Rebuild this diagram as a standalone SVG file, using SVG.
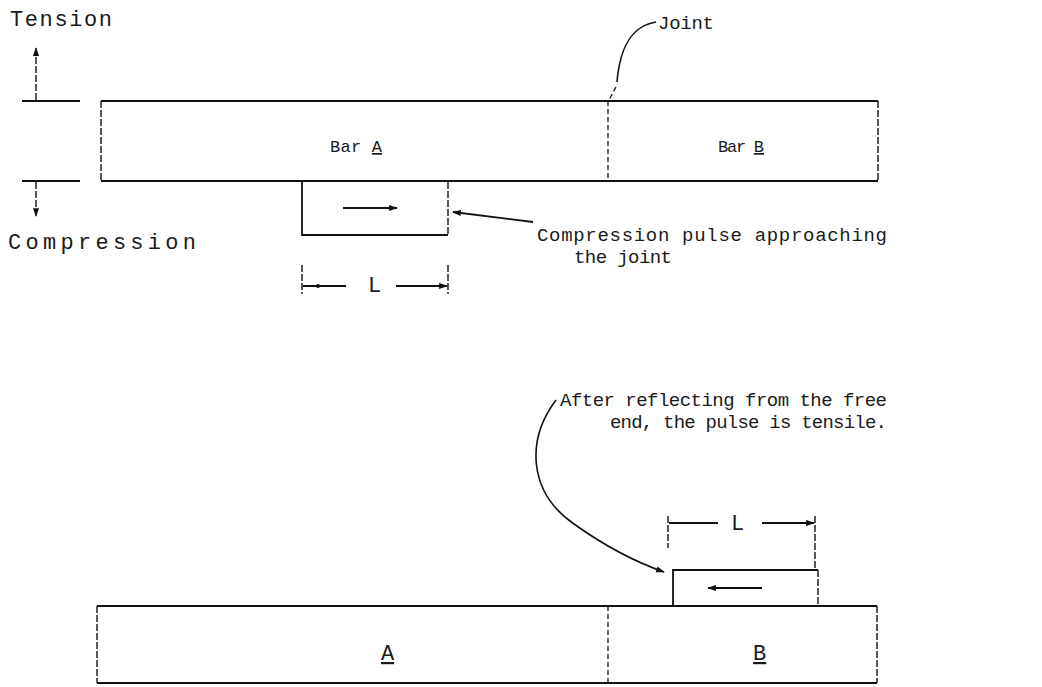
<svg xmlns="http://www.w3.org/2000/svg" width="1042" height="687" viewBox="0 0 1042 687">
<defs>
<style>
.t{font-family:"Liberation Mono","DejaVu Sans Mono",monospace;font-size:19px;fill:#1a1a1a}
.b{font-family:"Liberation Mono","DejaVu Sans Mono",monospace;font-size:22px;fill:#1a1a1a}
.s{font-family:"Liberation Mono","DejaVu Sans Mono",monospace;font-size:17px;fill:#1a1a1a}
.ln{stroke:#111;stroke-width:1.8;fill:none}
.dl{stroke:#111;stroke-width:1.4;fill:none;stroke-dasharray:7 2}
.jl{stroke:#111;stroke-width:1.3;fill:none;stroke-dasharray:5 3}
.cv{stroke:#111;stroke-width:1.6;fill:none}
</style>
<marker id="ah" viewBox="0 0 10 8" refX="9" refY="4" markerWidth="9" markerHeight="7" orient="auto" markerUnits="userSpaceOnUse">
<path d="M0,0.5 L10,4 L0,7.5 Z" fill="#111"/>
</marker>
</defs>
<rect width="1042" height="687" fill="#fff"/>

<g id="tension-indicator">
<text class="b" x="10" y="26" textLength="102" lengthAdjust="spacing">Tension</text>
<line class="ln" x1="22" y1="101" x2="80" y2="101"/>
<line class="dl" x1="36" y1="100" x2="36" y2="48" marker-end="url(#ah)"/>
</g>

<g id="compression-indicator">
<line class="ln" x1="22" y1="181" x2="80" y2="181"/>
<line class="dl" x1="36" y1="182" x2="36" y2="216" marker-end="url(#ah)"/>
<text class="b" x="8" y="249" textLength="188" lengthAdjust="spacing">Compression</text>
</g>

<g id="bar-a-top">
<line class="ln" x1="101" y1="101" x2="608" y2="101"/>
<line class="ln" x1="101" y1="181" x2="608" y2="181"/>
<line class="dl" x1="101" y1="101" x2="101" y2="181"/>
<text class="s" x="330" y="152" textLength="52" lengthAdjust="spacing">Bar <tspan text-decoration="underline">A</tspan></text>
</g>

<g id="bar-b-top">
<line class="ln" x1="608" y1="101" x2="878" y2="101"/>
<line class="ln" x1="608" y1="181" x2="878" y2="181"/>
<line class="dl" x1="878" y1="101" x2="878" y2="181"/>
<line class="jl" x1="608" y1="101" x2="608" y2="181"/>
<text class="s" x="718" y="152" textLength="46" lengthAdjust="spacing">Bar <tspan text-decoration="underline">B</tspan></text>
</g>

<g id="pulse-top">
<polyline class="ln" points="302,182 302,235 448,235"/>
<line class="dl" x1="448" y1="182" x2="448" y2="235"/>
<line class="ln" x1="343" y1="208" x2="397" y2="208" marker-end="url(#ah)"/>
</g>

<g id="dim-top">
<line class="dl" x1="302" y1="265" x2="302" y2="294"/>
<line class="dl" x1="448" y1="265" x2="448" y2="294"/>
<line class="ln" x1="303" y1="286" x2="346" y2="286"/>
<circle cx="318" cy="286" r="2" fill="#111"/>
<line class="ln" x1="396" y1="286" x2="447" y2="286" marker-end="url(#ah)"/>
<text class="b" x="368" y="292">L</text>
</g>

<g id="label-joint">
<text class="t" x="658" y="29" textLength="56" lengthAdjust="spacing">Joint</text>
</g>

<g id="label-compression-pulse">
<text class="t" x="537" y="241" textLength="350" lengthAdjust="spacing">Compression pulse approaching</text>
<text class="t" x="574" y="263" textLength="98" lengthAdjust="spacing">the joint</text>
</g>

<g id="label-after">
<text class="t" x="560" y="406" textLength="327" lengthAdjust="spacing">After reflecting from the free</text>
<text class="t" x="610" y="428" textLength="277" lengthAdjust="spacing">end, the pulse is tensile.</text>
</g>

<g id="dim-bottom">
<line class="dl" x1="668" y1="516" x2="668" y2="548"/>
<line class="dl" x1="815" y1="516" x2="815" y2="570"/>
<line class="ln" x1="669" y1="523" x2="718" y2="523"/>
<line class="ln" x1="762" y1="523" x2="814" y2="523" marker-end="url(#ah)"/>
<text class="b" x="731" y="530">L</text>
</g>

<g id="pulse-bottom">
<polyline class="ln" points="673,606 673,570 818,570"/>
<line class="dl" x1="818" y1="570" x2="818" y2="606"/>
<line class="ln" x1="762" y1="588" x2="708" y2="588" marker-end="url(#ah)"/>
</g>

<g id="bar-a-bottom">
<line class="ln" x1="97" y1="606" x2="608" y2="606"/>
<line class="ln" x1="97" y1="683" x2="608" y2="683"/>
<line class="dl" x1="97" y1="606" x2="97" y2="683"/>
<text class="b" x="381" y="660" text-decoration="underline">A</text>
</g>

<g id="bar-b-bottom">
<line class="ln" x1="608" y1="606" x2="877" y2="606"/>
<line class="ln" x1="608" y1="683" x2="877" y2="683"/>
<line class="dl" x1="877" y1="606" x2="877" y2="683"/>
<line class="jl" x1="608" y1="606" x2="608" y2="683"/>
<text class="b" x="753" y="660" text-decoration="underline">B</text>
</g>

<g id="connectors">
<path class="cv" d="M656,22 C632,26 620,46 617,82"/>
<path class="jl" d="M616,87 L609,100"/>
<line class="ln" x1="533" y1="222" x2="453" y2="212" marker-end="url(#ah)"/>
<path class="cv" d="M556,400 C526,440 528,492 574,524 C602,544 630,560 664,572" marker-end="url(#ah)"/>
</g>
</svg>
